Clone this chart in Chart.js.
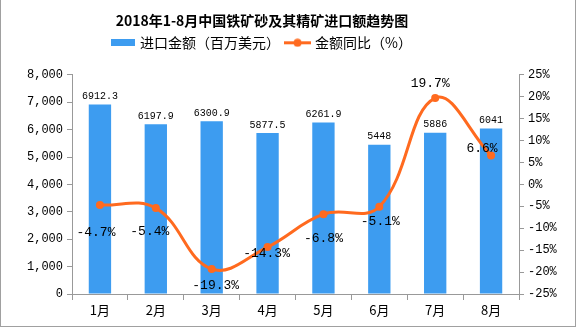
<!DOCTYPE html>
<html>
<head>
<meta charset="utf-8">
<script src="https://cdn.jsdelivr.net/npm/chart.js@4.4.1/dist/chart.umd.min.js"></script>
<style>
  html, body { margin: 0; padding: 0; background: #fff; }
  #wrap { width: 576px; height: 327px; box-sizing: border-box; border: 1px solid #a0a0a0; border-top: none; position: relative; }
</style>
</head>
<body>
<div id="wrap"><canvas id="chart"></canvas></div>
<script>
// data
const months = ['1月', '2月', '3月', '4月', '5月', '6月', '7月', '8月'];
const importValue = [6912.3, 6197.9, 6300.9, 5877.5, 6261.9, 5448, 5886, 6041];
const yoyPct = [-4.7, -5.4, -19.3, -14.3, -6.8, -5.1, 19.7, 6.6];
const valueAxis = { min: 0, max: 8000, step: 1000 };
const pctAxis = { min: -25, max: 25, step: 5 };

// label nudges for the line values (dx, dy in px)
const yoyLabelOffsets = [[-4, 28], [-6, 23], [4, 17], [-1, 6], [0, 24], [1, 15], [-5, -14], [-9, -7]];

const BAR = '#3d9cf0';
const LINE = '#ff6a1f';
const AXIS = '#999';
const CJK = '"Noto Sans CJK SC", "Noto Sans", sans-serif';
const NUM = '"Liberation Mono", "DejaVu Sans Mono", monospace';
const LEGEND_GAP = 15;
const HEAD_SHIFT = 52; // title + legend sit left of centre in the original

function legendIcon(kind){
  const c = document.createElement('canvas');
  const x = c.getContext('2d');
  if(kind === 'bar'){
    c.width = 24; c.height = 7;
    x.fillStyle = BAR;
    x.fillRect(0, 0, 24, 7);
  }else{
    c.width = 27; c.height = 9;
    x.strokeStyle = LINE; x.lineWidth = 3;
    x.beginPath(); x.moveTo(0, 4.5); x.lineTo(27, 4.5); x.stroke();
    x.fillStyle = LINE;
    x.beginPath(); x.arc(13.5, 4.5, 4, 0, Math.PI * 2); x.fill();
  }
  return c;
}

const valueLabels = {
  id: 'valueLabels',
  afterDatasetsDraw(chart){
    const ctx = chart.ctx;
    ctx.save();
    ctx.fillStyle = '#000';
    ctx.textAlign = 'center';

    ctx.font = '10px ' + NUM;
    ctx.textBaseline = 'bottom';
    chart.getDatasetMeta(0).data.forEach((b, i) => {
      ctx.fillText(String(importValue[i]), b.x, b.y - 3);
    });

    ctx.font = '13px ' + NUM;
    ctx.textBaseline = 'middle';
    chart.getDatasetMeta(1).data.forEach((p, i) => {
      const [dx, dy] = yoyLabelOffsets[i];
      ctx.fillText(yoyPct[i].toFixed(1) + '%', p.x + dx, p.y + dy);
    });
    ctx.restore();
  }
};

// extra room under the legend, and move the header a bit left
const headerTweak = {
  id: 'headerTweak',
  beforeLayout(chart){
    const lg = chart.legend;
    if(lg && !lg._gapped){
      const fit = lg.fit;
      lg.fit = function(){ fit.call(this); this.height += LEGEND_GAP; };
      lg._gapped = true;
    }
  },
  afterLayout(chart){
    if(chart.legend) chart.legend.right -= HEAD_SHIFT;
    if(chart.titleBlock) chart.titleBlock.right -= HEAD_SHIFT;
  }
};

const icons = [legendIcon('bar'), legendIcon('line')];

new Chart(document.getElementById('chart'), {
  type: 'bar',
  data: {
    labels: months,
    datasets: [
      {
        type: 'bar',
        label: '进口金额（百万美元）',
        data: importValue,
        backgroundColor: BAR,
        borderWidth: 0,
        yAxisID: 'y',
        categoryPercentage: 1,
        barPercentage: 0.4,
        order: 2
      },
      {
        type: 'line',
        label: '金额同比（%）',
        data: yoyPct,
        borderColor: LINE,
        backgroundColor: LINE,
        borderWidth: 3,
        pointRadius: 4,
        pointBackgroundColor: LINE,
        pointBorderWidth: 0,
        tension: 0.4,
        yAxisID: 'y1',
        order: 1
      }
    ]
  },
  options: {
    responsive: true,
    maintainAspectRatio: false,
    animation: false,
    plugins: {
      title: {
        display: true,
        text: '2018年1-8月中国铁矿砂及其精矿进口额趋势图',
        color: '#000',
        font: { family: CJK, size: 14, weight: 'bold' },
        padding: { top: 12, bottom: 0 }
      },
      legend: {
        display: true,
        labels: {
          color: '#000',
          font: { family: CJK, size: 14 },
          usePointStyle: true,
          pointStyleWidth: 21,
          padding: 7,
          sort: (a, b) => a.datasetIndex - b.datasetIndex,
          generateLabels(chart){
            const items = Chart.defaults.plugins.legend.labels.generateLabels(chart);
            items.forEach(it => { it.pointStyle = icons[it.datasetIndex]; });
            return items;
          }
        }
      },
      tooltip: { enabled: false }
    },
    scales: {
      x: {
        grid: { display: true, drawOnChartArea: false, color: AXIS, tickLength: 6, offset: true },
        border: { color: AXIS },
        ticks: { color: '#000', font: { family: CJK, size: 13 }, padding: 2 },
        afterFit(s){ s.height = 32; }
      },
      y: {
        position: 'left',
        min: valueAxis.min, max: valueAxis.max,
        grid: { display: true, drawOnChartArea: false, color: AXIS, tickLength: 5 },
        border: { color: AXIS },
        ticks: {
          stepSize: valueAxis.step,
          color: '#000',
          font: { family: NUM, size: 12 },
          padding: 4,
          callback: v => v.toLocaleString('en-US')
        },
        afterFit(s){ s.width = 71; }
      },
      y1: {
        position: 'right',
        min: pctAxis.min, max: pctAxis.max,
        grid: { display: true, drawOnChartArea: false, color: AXIS, tickLength: 5 },
        border: { color: AXIS },
        ticks: {
          stepSize: pctAxis.step,
          color: '#000',
          font: { family: NUM, size: 12 },
          padding: 4,
          callback: v => v + '%'
        },
        afterFit(s){ s.width = 56; }
      }
    }
  },
  plugins: [valueLabels, headerTweak]
});
</script>
</body>
</html>
